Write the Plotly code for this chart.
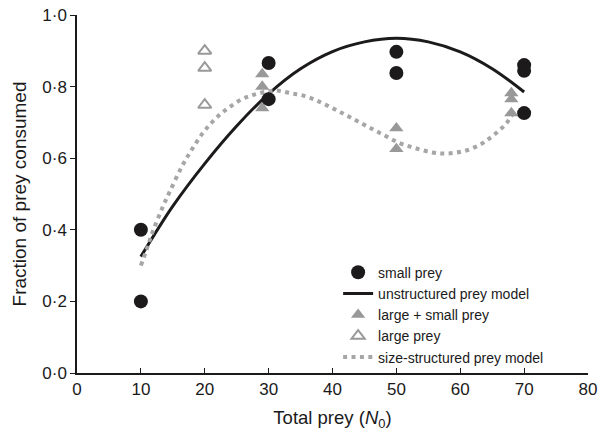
import plotly.graph_objects as go

# small prey (filled black circles)
small_x = [10, 10, 30, 30, 50, 50, 70, 70, 70]
small_y = [0.40, 0.20, 0.866, 0.765, 0.897, 0.838, 0.860, 0.844, 0.726]

# large + small prey (filled grey triangles)
ls_x = [29, 29, 29, 50, 50, 68, 68, 68]
ls_y = [0.835, 0.800, 0.740, 0.684, 0.626, 0.782, 0.765, 0.726]

# large prey (open grey triangles)
large_x = [20, 20, 20]
large_y = [0.900, 0.852, 0.749]

# unstructured prey model
unstr_x = [10, 15, 20, 25, 30, 35, 40, 45, 50, 55, 60, 65, 70]
unstr_y = [0.325, 0.466, 0.585, 0.690, 0.780, 0.850, 0.898, 0.925, 0.935, 0.925, 0.897, 0.850, 0.785]

# size-structured prey model
size_x = [10, 10.9, 11.8, 13.4, 14.5, 16.4, 17.9, 19.6, 21.0, 22.5, 24.0, 25.8, 27.1, 28.4, 30.0, 31.1,
          32.3, 33.6, 35.0, 37.4, 40.1, 42.6, 45.2, 47.8, 50.4, 53.0, 55.6, 57.5, 59.5, 61.5,
          63.4, 64.7, 66.0, 67.2, 68.3]
size_y = [0.300, 0.345, 0.392, 0.463, 0.506, 0.576, 0.622, 0.668, 0.698, 0.724, 0.744, 0.765, 0.774, 0.781, 0.787, 0.789,
          0.786, 0.781, 0.777, 0.762, 0.739, 0.716, 0.691, 0.667, 0.643, 0.628, 0.616, 0.613, 0.616, 0.625,
          0.641, 0.657, 0.676, 0.697, 0.725]

x_ticks = [0, 10, 20, 30, 40, 50, 60, 70, 80]
y_ticks = [0.0, 0.2, 0.4, 0.6, 0.8, 1.0]
y_ticktext = ["0·0", "0·2", "0·4", "0·6", "0·8", "1·0"]

BLACK = "#1c1a1a"
GREY = "#999999"
DOT = "#a6a6a6"

fig = go.Figure()

fig.add_trace(go.Scatter(
    x=unstr_x, y=unstr_y, mode="lines", name="unstructured prey model",
    line=dict(color=BLACK, width=3, shape="spline"), legendrank=2))
fig.add_trace(go.Scatter(
    x=size_x, y=size_y, mode="lines", name="size-structured prey model",
    line=dict(color=DOT, width=4, dash="4px,4.4px", shape="spline"), legendrank=5))
fig.add_trace(go.Scatter(
    x=large_x, y=large_y, mode="markers", name="large prey",
    marker=dict(symbol="triangle-up-open", size=11.5, color=GREY, line=dict(width=2, color=GREY)),
    legendrank=4))
fig.add_trace(go.Scatter(
    x=ls_x, y=ls_y, mode="markers", name="large + small prey",
    marker=dict(symbol="triangle-up", size=12.5, color=GREY, line=dict(width=0)),
    legendrank=3))
fig.add_trace(go.Scatter(
    x=small_x, y=small_y, mode="markers", name="small prey",
    marker=dict(symbol="circle", size=14, color=BLACK, line=dict(width=0)),
    legendrank=1))

font_family = "Liberation Sans, Arial, sans-serif"

fig.update_layout(
    width=599, height=433,
    margin=dict(l=77, r=11, t=15, b=60),
    paper_bgcolor="white", plot_bgcolor="white",
    font=dict(family=font_family, size=16, color="#1a1a1a"),
    showlegend=True,
    legend=dict(
        x=0.511, y=0.325, xanchor="left", yanchor="top",
        font=dict(size=14, color="#1a1a1a"),
        bgcolor="rgba(0,0,0,0)", tracegroupgap=0, itemwidth=30,
    ),
    xaxis=dict(
        range=[0, 80], tickvals=x_ticks, ticks="inside", ticklen=5, tickwidth=1,
        tickcolor="#1a1a1a", showline=True, linecolor="#1a1a1a", linewidth=1.5,
        showgrid=False, zeroline=False, tickfont=dict(size=17), automargin=False,
        title=dict(text="Total prey (<i>N</i><sub>0</sub>)", font=dict(size=18.5), standoff=13),
    ),
    yaxis=dict(
        range=[0, 1.0], tickvals=y_ticks, ticktext=y_ticktext, ticks="outside",
        ticklen=5, tickwidth=1, tickcolor="#1a1a1a", showline=True,
        linecolor="#1a1a1a", linewidth=1.5, showgrid=False, zeroline=False,
        tickfont=dict(size=17), automargin=False,
        title=dict(text="Fraction of prey consumed", font=dict(size=19), standoff=11),
    ),
)

fig.write_html("out.html", config={"displayModeBar": False},
               post_script="document.body.style.margin='0';")
